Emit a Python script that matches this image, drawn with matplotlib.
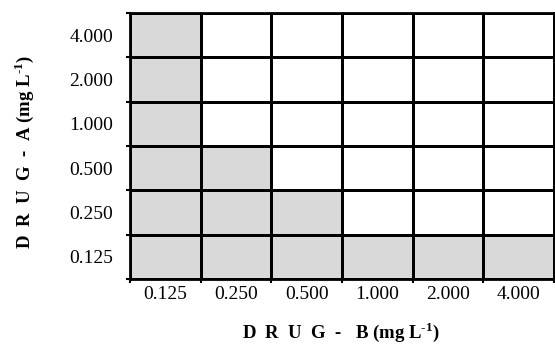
import matplotlib
matplotlib.use("Agg")
import matplotlib.pyplot as plt
import numpy as np
from matplotlib.colors import ListedColormap

plt.rcParams["font.family"] = "Liberation Serif"
plt.rcParams["mathtext.fontset"] = "custom"
plt.rcParams["mathtext.bf"] = "Liberation Serif:bold"
plt.rcParams["mathtext.rm"] = "Liberation Serif"

# concentrations (mg L-1)
drug_b = ["0.125", "0.250", "0.500", "1.000", "2.000", "4.000"]
drug_a = ["0.125", "0.250", "0.500", "1.000", "2.000", "4.000"]

# 1 = shaded (growth), rows follow drug_a from bottom, columns follow drug_b
growth = [
    [1, 1, 1, 1, 1, 1],  # 0.125
    [1, 1, 1, 0, 0, 0],  # 0.250
    [1, 1, 0, 0, 0, 0],  # 0.500
    [1, 0, 0, 0, 0, 0],  # 1.000
    [1, 0, 0, 0, 0, 0],  # 2.000
    [1, 0, 0, 0, 0, 0],  # 4.000
]

fig = plt.figure(figsize=(5.55, 3.46), dpi=100)
ax = fig.add_axes([130 / 555, 1 - 279 / 346, 424 / 555, 266 / 346])

cmap = ListedColormap(["white", "#d9d9d9"])
ax.pcolormesh(np.arange(len(drug_b) + 1), np.arange(len(drug_a) + 1),
              np.array(growth), cmap=cmap, vmin=0, vmax=1,
              edgecolors="black", linewidth=2)

for s in ax.spines.values():
    s.set_linewidth(2)

# small ticks on cell borders, labels in the middle of the cells
ax.set_xticks(np.arange(len(drug_b) + 1))
ax.set_yticks(np.arange(len(drug_a) + 1))
ax.set_xticklabels([])
ax.set_yticklabels([])
ax.tick_params(which="major", length=3, width=1.5, direction="out")
ax.set_xticks(np.arange(len(drug_b)) + 0.5, minor=True)
ax.set_yticks(np.arange(len(drug_a)) + 0.5, minor=True)
ax.set_xticklabels(drug_b, minor=True, fontsize=14)
ax.set_yticklabels(drug_a, minor=True, fontsize=14)
ax.tick_params(axis="x", which="minor", length=0, pad=5)
ax.tick_params(axis="y", which="minor", length=0, pad=12)
ax.set_xlim(0, len(drug_b))
ax.set_ylim(0, len(drug_a))

sup = "$^{\\mathbf{\u20101}}$"
fig.text(341 / 555, 1 - 332 / 346, "D  R  U  G  -   B (mg L" + sup + ")",
         ha="center", va="center", fontsize=13.5, fontweight="bold")
fig.text(24 / 555, 1 - 152 / 346, "D  R  U  G  -  A (mg L" + sup + ")",
         ha="center", va="center", fontsize=13.5, fontweight="bold", rotation=90)

fig.savefig("out.png", dpi=100)
